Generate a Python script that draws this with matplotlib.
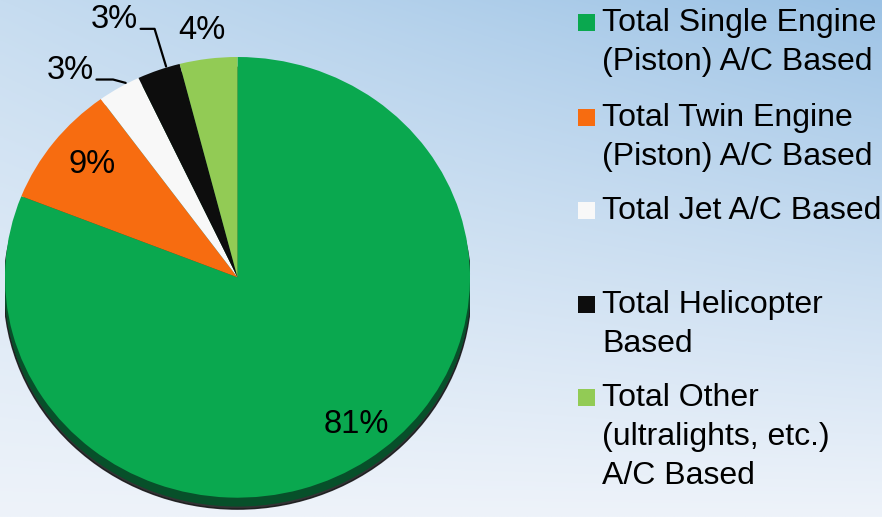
#!/usr/bin/env python3

import numpy as np
import matplotlib
from matplotlib import pyplot as plt
from matplotlib.patches import Ellipse, Rectangle

matplotlib.rcParams["font.family"] = ["Liberation Sans", "DejaVu Sans"]

# Share of based aircraft by type (percent)
categories = [
    "Total Single Engine\n(Piston) A/C Based",
    "Total Twin Engine\n(Piston) A/C Based",
    "Total Jet A/C Based",
    "Total Helicopter\nBased",
    "Total Other\n(ultralights, etc.)\nA/C Based",
]
shares = [81, 9, 3, 3, 4]
colors = ["#0aa84f", "#f76c10", "#f8f8f8", "#0d0d0d", "#92cb55"]

# label placement for the thin slices (axes data units), None = inside slice
label_pos = [None, None, (-0.72, 0.94), (-0.53, 1.17), (-0.155, 1.12)]
leader_angle = [None, None, -15, 107, None]

W, H = 882, 517
fig = plt.figure(figsize=(W / 100, H / 100), dpi=100)

# background gradient: blue at the top, almost white at the bottom
bg = fig.add_axes([0, 0, 1, 1])
yy, xx = np.mgrid[0:1:300j, 0:1:300j]
top = np.array([198, 220, 240]) * (1 - xx[..., None]) + np.array([155, 194, 229]) * xx[..., None]
bot = np.array([238, 243, 250])
t = yy[..., None] ** 0.9
img = (top + (bot - top) * t) / 255.0
bg.imshow(img, aspect="auto", extent=[0, 1, 0, 1], origin="upper")
bg.axis("off")

# pie axes, slightly squashed ellipse like the tilted original
x0, x1, y0, y1 = 5, 470, 57, 512
ax = fig.add_axes([x0 / W, (H - y1) / H, (x1 - x0) / W, (y1 - y0) / H])

# rim / shadow underneath the pie face
ax.add_patch(Ellipse((0, -0.052), 2.01, 2.0, color="#111111", alpha=0.85, zorder=0))
ax.add_patch(Ellipse((0, -0.042), 2.0, 1.99, color="#07502a", zorder=0.5))

wedges, _ = ax.pie(shares, colors=colors, startangle=90, counterclock=False,
                   radius=1.0, wedgeprops=dict(linewidth=0))

for w, s, pos, la in zip(wedges, shares, label_pos, leader_angle):
    mid = np.deg2rad((w.theta1 + w.theta2) / 2)
    if pos is None:
        ax.text(0.84 * np.cos(mid) + 0.04, 0.82 * np.sin(mid) + 0.01, "%d%%" % s,
                ha="center", va="center", fontsize=23.5, color="black")
    elif la is not None:
        edge = (1.005 * np.cos(mid - 0.035), 1.005 * np.sin(mid - 0.035))
        ax.annotate("%d%%" % s, xy=edge, xytext=pos, ha="center", va="center",
                    fontsize=23.5, color="black", annotation_clip=False,
                    arrowprops=dict(arrowstyle="-", color="black", lw=1.6,
                                    relpos=(1.0, 0.2), shrinkA=0, shrinkB=0,
                                    connectionstyle="angle,angleA=0,angleB=%d,rad=0" % la))
    else:
        ax.text(pos[0], pos[1], "%d%%" % s, ha="center", va="center",
                fontsize=23.5, color="black")

ax.set_aspect("auto")
ax.set_xlim(-1, 1)
ax.set_ylim(-1.065, 1)
ax.axis("off")

# legend drawn by hand to match the spacing of the original
rows = [22, 117, 210, 304, 397]
for lab, c, yc in zip(categories, colors, rows):
    fig.patches.append(Rectangle((578 / W, 1 - (yc + 8.5) / H), 17 / W, 17 / H,
                                 transform=fig.transFigure, facecolor=c,
                                 edgecolor="none"))
    fig.text(602 / W, 1 - (yc - 14) / H, lab, ha="left", va="top",
             fontsize=23, linespacing=1.4, color="black")

plt.savefig("out.png", dpi=100)
